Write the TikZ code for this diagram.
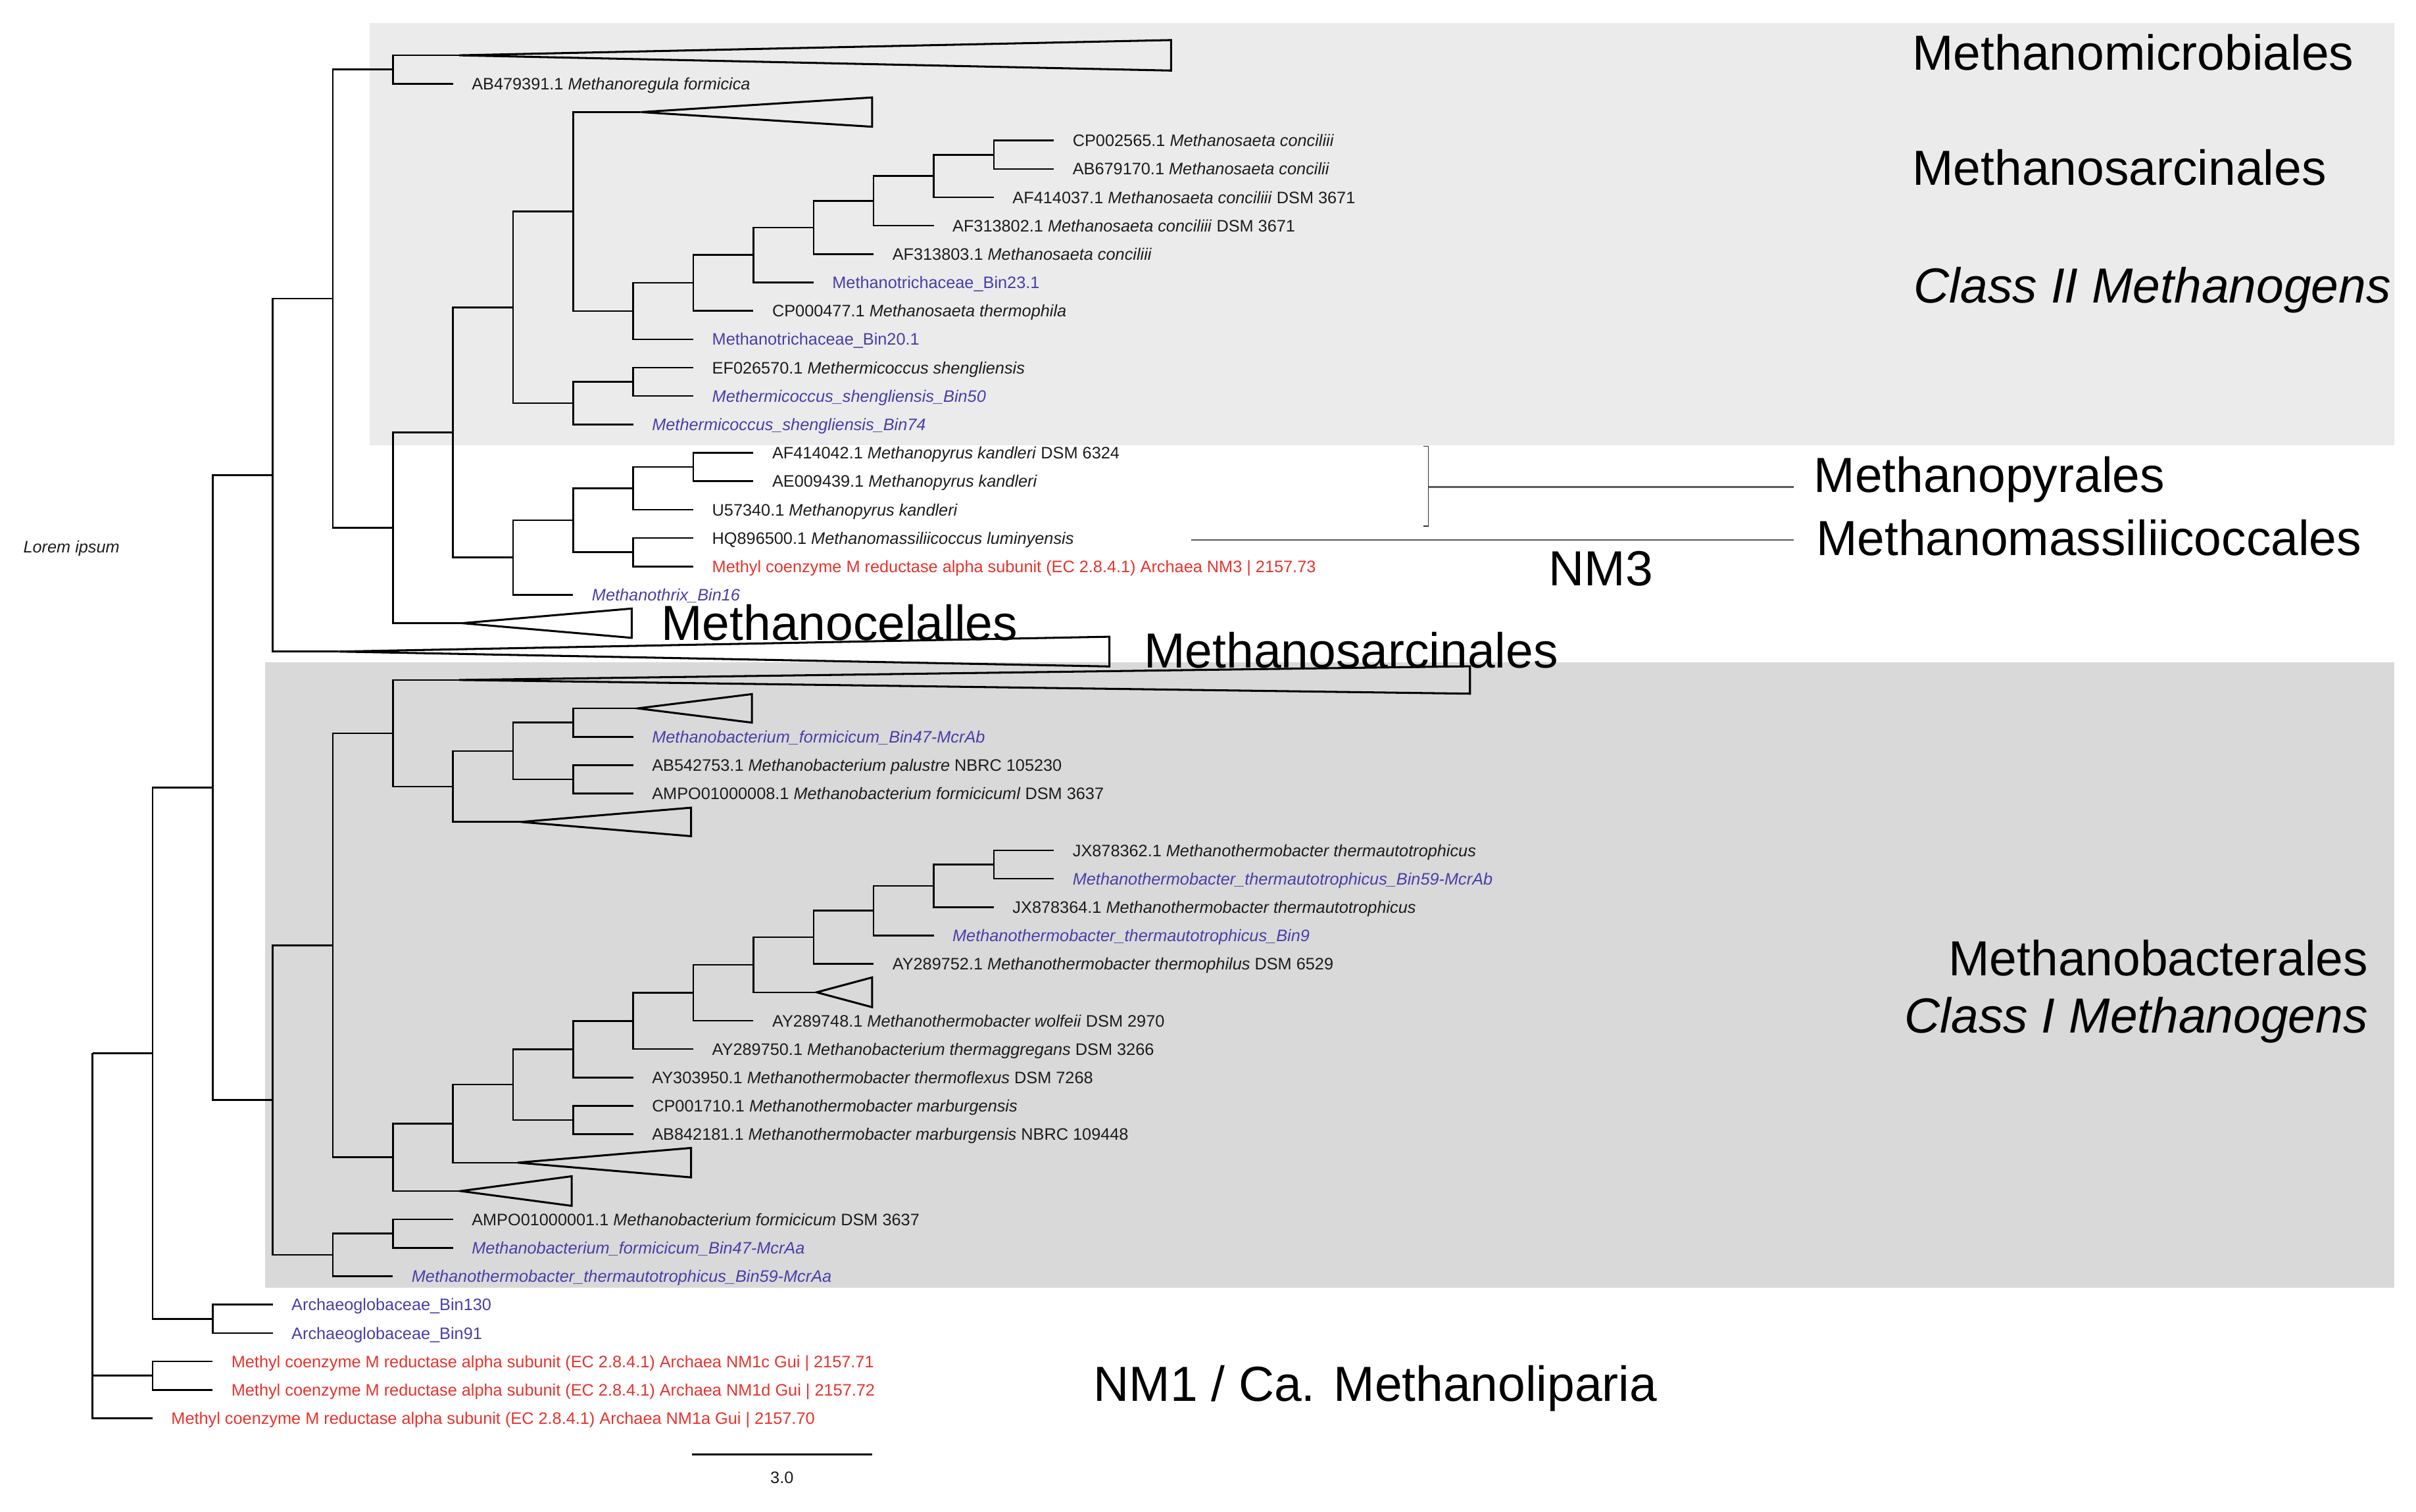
\documentclass[tikz,border=0pt]{standalone}
\usepackage{fontspec}
\setmainfont{Liberation Sans}
\definecolor{binblue}{RGB}{72,62,168}
\definecolor{nmred}{RGB}{232,50,44}
\definecolor{txtk}{RGB}{28,28,28}
\definecolor{boxlight}{RGB}{235,235,235}
\definecolor{boxdark}{RGB}{217,217,217}
\definecolor{lablinecol}{RGB}{90,90,90}
\newcommand{\leafat}[5]{\coordinate (#1) at (#2,#3); \node[leaf,#4] (#1t) at (#1) {#5};}
\newcommand{\cladetri}[5]{\coordinate (#1) at (#2,#3); \draw[tri] (#1) -- (#4,{#3-#5}) -- (#4,{#3+#5}) -- cycle;}
\newcommand{\mcrlab}[1]{Methyl coenzyme M reductase alpha subunit (EC 2.8.4.1) Archaea #1}
\begin{document}
\begin{tikzpicture}[x=1pt,y=-1pt,
  txt/.style={inner sep=0pt, anchor=base west, text=txtk, font=\fontsize{10.8}{13}\selectfont},
  leaf/.style={txt, xshift=12pt, yshift=-3.9pt},
  bl/.style={text=binblue},
  bli/.style={text=binblue, font=\fontsize{10.8}{13}\selectfont\itshape},
  rd/.style={text=nmred},
  br/.style={line width=1.1pt, draw=black},
  tri/.style={line width=1.3pt, draw=black, line join=miter},
  big/.style={inner sep=0pt, anchor=base west, yshift=-11.5pt, font=\fontsize{32}{38}\selectfont, text=black},
  bigr/.style={big, anchor=base east},
  bigi/.style={font=\fontsize{32}{38}\selectfont\itshape},
  labline/.style={line width=1.1pt, draw=lablinecol},
  brk/.style={line width=0.6pt, draw=black!80}
]
\useasboundingbox (0,0) rectangle (1568,981.4);
% shaded boxes
\fill[boxlight] (240,15) rectangle (1554,289);
\fill[boxdark] (172,430) rectangle (1554,836);

% ---------- internal nodes ----------
\coordinate (S) at (645,100.415);
\coordinate (R) at (606,114.24);
\coordinate (Q) at (567,130.365);
\coordinate (P) at (528,147.64);
\coordinate (O) at (489,165.50);
\coordinate (N) at (450,183.64);
\coordinate (M) at (411,201.93);
\coordinate (K) at (372,137.35);
\coordinate (T) at (411,247.855);
\coordinate (L) at (372,261.68);
\coordinate (I) at (333,199.51);
\coordinate (X) at (450,303.145);
\coordinate (V) at (411,316.97);
\coordinate (W) at (411,358.435);
\coordinate (U) at (372,337.70);
\coordinate (J) at (333,361.89);
\coordinate (H) at (294,280.70);
\coordinate (G) at (255,342.61);
\coordinate (F) at (255,45.125);
\coordinate (E) at (216,193.87);
\coordinate (C) at (177,308.40);
\coordinate (EE) at (372,469.015);
\coordinate (FF) at (372,505.875);
\coordinate (DD) at (333,487.445);
\coordinate (CC) at (294,510.48);
\coordinate (AA) at (255,475.93);
\coordinate (QQ) at (645,561.165);
\coordinate (PP) at (606,574.99);
\coordinate (OO) at (567,591.11);
\coordinate (NN) at (528,608.39);
\coordinate (MM) at (489,626.25);
\coordinate (LL) at (450,644.39);
\coordinate (KK) at (411,662.675);
\coordinate (II) at (372,681.03);
\coordinate (JJ) at (372,727.035);
\coordinate (HH) at (333,704.03);
\coordinate (GG) at (294,729.355);
\coordinate (BB) at (255,751.23);
\coordinate (Y) at (216,613.58);
\coordinate (RR) at (255,800.755);
\coordinate (Z) at (216,814.58);
\coordinate (D) at (177,714.08);
\coordinate (B) at (138,511.24);
\coordinate (AR) at (138,856.045);
\coordinate (A) at (99,683.64);
\coordinate (NMcd) at (99,892.905);
\coordinate (root) at (60,683.64);

% ---------- collapsed clades ----------
\cladetri{tm3}{298}{35.91}{760}{9.9}
\cladetri{tm1}{416}{72.77}{566}{9.5}
\cladetri{t17}{300}{404.51}{410}{9.5}
\cladetri{t18}{220}{422.94}{720}{9.65}
\cladetri{t19}{298}{441.37}{954}{8.9}
\cladetri{t20}{414}{459.8}{488}{9.25}
\cladetri{t24}{338}{533.52}{448.5}{9.25}
\cladetri{t30}{530}{644.1}{566}{9.65}
\cladetri{t36}{336}{754.68}{448.5}{9.55}
\cladetri{t37}{299}{773.11}{371}{9.6}

% ---------- leaves ----------
\leafat{lm2}{294}{54.34}{}{AB479391.1 \textit{Methanoregula formicica}}
\leafat{l0}{684}{91.2}{}{CP002565.1 \textit{Methanosaeta conciliii}}
\leafat{l1}{684}{109.63}{}{AB679170.1 \textit{Methanosaeta concilii}}
\leafat{l2}{645}{128.06}{}{AF414037.1 \textit{Methanosaeta conciliii} DSM 3671}
\leafat{l3}{606}{146.49}{}{AF313802.1 \textit{Methanosaeta conciliii} DSM 3671}
\leafat{l4}{567}{164.92}{}{AF313803.1 \textit{Methanosaeta conciliii}}
\leafat{l5}{528}{183.35}{bl}{Methanotrichaceae\_Bin23.1}
\leafat{l6}{489}{201.78}{}{CP000477.1 \textit{Methanosaeta thermophila}}
\leafat{l7}{450}{220.21}{bl}{Methanotrichaceae\_Bin20.1}
\leafat{l8}{450}{238.64}{}{EF026570.1 \textit{Methermicoccus shengliensis}}
\leafat{l9}{450}{257.07}{bli}{Methermicoccus\_shengliensis\_Bin50}
\leafat{l10}{411}{275.5}{bli}{Methermicoccus\_shengliensis\_Bin74}
\leafat{l11}{489}{293.93}{}{AF414042.1 \textit{Methanopyrus kandleri} DSM 6324}
\leafat{l12}{489}{312.36}{}{AE009439.1 \textit{Methanopyrus kandleri}}
\leafat{l13}{450}{330.79}{}{U57340.1 \textit{Methanopyrus kandleri}}
\leafat{l14}{450}{349.22}{}{HQ896500.1 \textit{Methanomassiliicoccus luminyensis}}
\leafat{l15}{450}{367.65}{rd}{\mcrlab{NM3 | 2157.73}}
\leafat{l16}{372}{386.08}{bli}{Methanothrix\_Bin16}
\leafat{l21}{411}{478.23}{bli}{Methanobacterium\_formicicum\_Bin47-McrAb}
\leafat{l22}{411}{496.66}{}{AB542753.1 \textit{Methanobacterium palustre} NBRC 105230}
\leafat{l23}{411}{515.09}{}{AMPO01000008.1 \textit{Methanobacterium formicicuml} DSM 3637}
\leafat{l25}{684}{551.95}{}{JX878362.1 \textit{Methanothermobacter thermautotrophicus}}
\leafat{l26}{684}{570.38}{bli}{Methanothermobacter\_thermautotrophicus\_Bin59-McrAb}
\leafat{l27}{645}{588.81}{}{JX878364.1 \textit{Methanothermobacter thermautotrophicus}}
\leafat{l28}{606}{607.24}{bli}{Methanothermobacter\_thermautotrophicus\_Bin9}
\leafat{l29}{567}{625.67}{}{AY289752.1 \textit{Methanothermobacter thermophilus} DSM 6529}
\leafat{l31}{489}{662.53}{}{AY289748.1 \textit{Methanothermobacter wolfeii} DSM 2970}
\leafat{l32}{450}{680.96}{}{AY289750.1 \textit{Methanobacterium thermaggregans} DSM 3266}
\leafat{l33}{411}{699.39}{}{AY303950.1 \textit{Methanothermobacter thermoflexus} DSM 7268}
\leafat{l34}{411}{717.82}{}{CP001710.1 \textit{Methanothermobacter marburgensis}}
\leafat{l35}{411}{736.25}{}{AB842181.1 \textit{Methanothermobacter marburgensis} NBRC 109448}
\leafat{l38}{294}{791.54}{}{AMPO01000001.1 \textit{Methanobacterium formicicum} DSM 3637}
\leafat{l39}{294}{809.97}{bli}{Methanobacterium\_formicicum\_Bin47-McrAa}
\leafat{l40}{255}{828.4}{bli}{Methanothermobacter\_thermautotrophicus\_Bin59-McrAa}
\leafat{l41}{177}{846.83}{bl}{Archaeoglobaceae\_Bin130}
\leafat{l42}{177}{865.26}{bl}{Archaeoglobaceae\_Bin91}
\leafat{l43}{138}{883.69}{rd}{\mcrlab{NM1c Gui | 2157.71}}
\leafat{l44}{138}{902.12}{rd}{\mcrlab{NM1d Gui | 2157.72}}
\leafat{l45}{99}{920.55}{rd}{\mcrlab{NM1a Gui | 2157.70}}

% ---------- branches ----------
\draw[br] (F) |- (tm3); \draw[br] (F) |- (lm2);
\draw[br] (E) |- (F); \draw[br] (E) |- (G);
\draw[br] (G) |- (H); \draw[br] (G) |- (t17);
\draw[br] (H) |- (I); \draw[br] (H) |- (J);
\draw[br] (I) |- (K); \draw[br] (I) |- (L);
\draw[br] (K) |- (tm1); \draw[br] (K) |- (M);
\draw[br] (M) |- (N); \draw[br] (M) |- (l7);
\draw[br] (N) |- (O); \draw[br] (N) |- (l6);
\draw[br] (O) |- (P); \draw[br] (O) |- (l5);
\draw[br] (P) |- (Q); \draw[br] (P) |- (l4);
\draw[br] (Q) |- (R); \draw[br] (Q) |- (l3);
\draw[br] (R) |- (S); \draw[br] (R) |- (l2);
\draw[br] (S) |- (l0); \draw[br] (S) |- (l1);
\draw[br] (L) |- (T); \draw[br] (L) |- (l10);
\draw[br] (T) |- (l8); \draw[br] (T) |- (l9);
\draw[br] (J) |- (U); \draw[br] (J) |- (l16);
\draw[br] (U) |- (V); \draw[br] (U) |- (W);
\draw[br] (V) |- (X); \draw[br] (V) |- (l13);
\draw[br] (X) |- (l11); \draw[br] (X) |- (l12);
\draw[br] (W) |- (l14); \draw[br] (W) |- (l15);
\draw[br] (C) |- (E); \draw[br] (C) |- (t18);
\draw[br] (B) |- (C); \draw[br] (B) |- (D);
\draw[br] (D) |- (Y); \draw[br] (D) |- (Z);
\draw[br] (Y) |- (AA); \draw[br] (Y) |- (BB);
\draw[br] (AA) |- (t19); \draw[br] (AA) |- (CC);
\draw[br] (CC) |- (DD); \draw[br] (CC) |- (t24);
\draw[br] (DD) |- (EE); \draw[br] (DD) |- (FF);
\draw[br] (EE) |- (t20); \draw[br] (EE) |- (l21);
\draw[br] (FF) |- (l22); \draw[br] (FF) |- (l23);
\draw[br] (BB) |- (GG); \draw[br] (BB) |- (t37);
\draw[br] (GG) |- (HH); \draw[br] (GG) |- (t36);
\draw[br] (HH) |- (II); \draw[br] (HH) |- (JJ);
\draw[br] (II) |- (KK); \draw[br] (II) |- (l33);
\draw[br] (KK) |- (LL); \draw[br] (KK) |- (l32);
\draw[br] (LL) |- (MM); \draw[br] (LL) |- (l31);
\draw[br] (MM) |- (NN); \draw[br] (MM) |- (t30);
\draw[br] (NN) |- (OO); \draw[br] (NN) |- (l29);
\draw[br] (OO) |- (PP); \draw[br] (OO) |- (l28);
\draw[br] (PP) |- (QQ); \draw[br] (PP) |- (l27);
\draw[br] (QQ) |- (l25); \draw[br] (QQ) |- (l26);
\draw[br] (JJ) |- (l34); \draw[br] (JJ) |- (l35);
\draw[br] (Z) |- (RR); \draw[br] (Z) |- (l40);
\draw[br] (RR) |- (l38); \draw[br] (RR) |- (l39);
\draw[br] (A) |- (B); \draw[br] (A) |- (AR);
\draw[br] (AR) |- (l41); \draw[br] (AR) |- (l42);
\draw[br] (root) -- (A); \draw[br] (root) |- (NMcd); \draw[br] (root) |- (l45);
\draw[br] (NMcd) |- (l43); \draw[br] (NMcd) |- (l44);

% ---------- Lorem ipsum ----------
\node[txt, yshift=-3.9pt, font=\fontsize{10.8}{13}\selectfont\itshape] (lorem) at (15,355) {Lorem ipsum};

% ---------- group labels ----------
\node[big] (labmmic) at (1241,34) {Methanomicrobiales};
\node[big] (labmsarA) at (1241,108.5) {Methanosarcinales};
\node[big, bigi] (labcII) at (1242,185) {Class II Methanogens};
\node[big] (labmpy) at (1177,308) {Methanopyrales};
\node[big] (labmmas) at (1178.5,349) {Methanomassiliicoccales};
\node[big] (labnm3) at (1005,368.6) {NM3};
\node[big] (labmcel) at (429,404) {Methanocelalles};
\node[big] (labmsarB) at (742.4,422) {Methanosarcinales};
\node[bigr] (labmbac) at (1537,622) {Methanobacterales};
\node[bigr, bigi] (labcI) at (1537,658.8) {Class I Methanogens};
\node[big] (labnm1) at (709.5,898) {NM1 / Ca. Methanoliparia};

% ---------- bracket and pointer lines ----------
\coordinate (brT) at (927,289.6);
\coordinate (brB) at (927,341.5);
\coordinate (brM) at (927,316);
\coordinate (mpyE) at (1164,316);
\coordinate (mmS) at (773,350.5);
\coordinate (mmE) at (1164,350.5);
\draw[brk] ([xshift=-3pt]brT) -- (brT) -- (brB) -- ([xshift=-3pt]brB);
\draw[labline] (brM) -- (mpyE);
\draw[labline] (mmS) -- (mmE);

% ---------- scale bar ----------
\coordinate (sbL) at (449,944);
\coordinate (sbR) at (566,944);
\draw[line width=1.4pt] (sbL) -- (sbR);
\node[txt, anchor=base, yshift=-3.9pt] (sbT) at (507.5,959) {3.0};
\end{tikzpicture}
\end{document}
